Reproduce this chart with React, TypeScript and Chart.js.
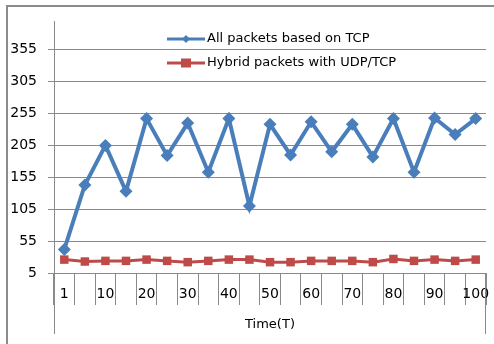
import React, { useEffect, useRef } from "react";
import { Chart, registerables } from "chart.js";

Chart.register(...registerables);

const categories = ["1", "5", "10", "15", "20", "25", "30", "35", "40", "45", "50", "55", "60", "65", "70", "75", "80", "85", "90", "95", "100"];
const tcpValues = [42, 143, 205, 133, 247, 189, 240, 163, 247, 110, 238, 190, 242, 195, 238, 187, 247, 163, 248, 222, 247];
const hybridValues = [26, 23, 24, 24, 26, 24, 22, 24, 26, 26, 22, 22, 24, 24, 24, 22, 27, 24, 26, 24, 26];
const yTicks = [5, 55, 105, 155, 205, 255, 305, 355];
const seriesLabels = ["All packets based on TCP", "Hybrid packets with UDP/TCP"];
const xTitle = "Time(T)";

const FONT = "'DejaVu Sans', sans-serif";
const GRID = "#8a8a8a";

const legendPlugin = {
  id: "customLegend",
  afterDraw(chart: any) {
    const ctx = chart.ctx;
    const rows = [39, 63];
    ctx.save();
    chart.data.datasets.forEach((ds: any, i: number) => {
      const y = rows[i];
      ctx.strokeStyle = ds.borderColor;
      ctx.lineWidth = 3;
      ctx.beginPath();
      ctx.moveTo(167, y);
      ctx.lineTo(205, y);
      ctx.stroke();
      ctx.fillStyle = ds.borderColor;
      const cx = 186;
      if (ds.pointStyle === "rectRot") {
        ctx.beginPath();
        ctx.moveTo(cx, y - 4);
        ctx.lineTo(cx + 4, y);
        ctx.lineTo(cx, y + 4);
        ctx.lineTo(cx - 4, y);
        ctx.closePath();
        ctx.fill();
      } else {
        ctx.fillRect(cx - 5, y - 4.5, 10, 9);
      }
      ctx.fillStyle = "#000";
      ctx.font = `13px ${FONT}`;
      ctx.textBaseline = "middle";
      ctx.textAlign = "left";
      ctx.fillText(ds.label, 207, y);
    });
    ctx.restore();
  },
};

const frameLinesPlugin = {
  id: "frameLines",
  afterDraw(chart: any) {
    const ctx = chart.ctx;
    const a = chart.chartArea;
    ctx.save();
    const xl = Math.round(a.left) + 0.5;
    const xr = Math.round(a.right) - 0.5;
    const yb = Math.round(a.bottom) + 0.5;
    const yEnd = 334;
    // keep the strip under the axis title clean
    ctx.fillStyle = "#fff";
    ctx.fillRect(xl + 1, 331, xr - xl - 2, 13);
    ctx.strokeStyle = GRID;
    ctx.lineWidth = 1;
    ctx.beginPath();
    ctx.moveTo(xl, a.top);
    ctx.lineTo(xl, yEnd);
    ctx.stroke();
    ctx.beginPath();
    ctx.moveTo(xr, yb);
    ctx.lineTo(xr, yEnd);
    ctx.stroke();
    ctx.beginPath();
    ctx.moveTo(xl, yb);
    ctx.lineTo(xr, yb);
    ctx.stroke();
    ctx.fillStyle = "#000";
    ctx.font = `13px ${FONT}`;
    ctx.textAlign = "center";
    ctx.textBaseline = "middle";
    ctx.fillText(xTitle, (a.left + a.right) / 2, 325);
    ctx.restore();
  },
};

export default function App() {
  const ref = useRef<HTMLCanvasElement>(null);
  useEffect(() => {
    if (!ref.current) return;
    const chart = new Chart(ref.current, {
      type: "line",
      data: {
        labels: categories,
        datasets: [
          {
            label: seriesLabels[0],
            data: tcpValues,
            borderColor: "#4a7ebb",
            backgroundColor: "#4a7ebb",
            borderWidth: 4,
            pointStyle: "rectRot",
            pointRadius: 6.5,
            pointBorderWidth: 0,
            tension: 0,
          },
          {
            label: seriesLabels[1],
            data: hybridValues,
            borderColor: "#be4b48",
            backgroundColor: "#be4b48",
            borderWidth: 3,
            pointStyle: "rect",
            pointRadius: 6,
            pointBorderWidth: 0,
            tension: 0,
          },
        ],
      },
      options: {
        animation: false,
        responsive: false,
        maintainAspectRatio: false,
        layout: { padding: { left: 0, right: 8, top: 21, bottom: 0 } },
        plugins: { legend: { display: false }, tooltip: { enabled: false } },
        scales: {
          x: {
            type: "category",
            offset: true,
            grid: {
              offset: true,
              drawOnChartArea: false,
              drawTicks: true,
              tickLength: 32,
              color: GRID,
            },
            border: { display: false },
            ticks: {
              autoSkip: false,
              maxRotation: 0,
              padding: -19,
              color: "#000",
              font: { family: FONT, size: 14 },
              callback: (_v: any, i: number) => (i % 2 === 0 ? categories[i] : ""),
            },
            title: { display: false },
            afterFit: (s: any) => {
              s.height = 71;
            },
          },
          y: {
            min: 5,
            max: 400,
            afterBuildTicks: (s: any) => {
              s.ticks = yTicks.map((v) => ({ value: v }));
            },
            grid: { color: GRID, tickLength: 6, drawTicks: true },
            border: { display: false },
            ticks: {
              padding: 11,
              color: "#000",
              font: { family: FONT, size: 14 },
            },
            afterFit: (s: any) => {
              s.width = 54;
            },
          },
        },
      },
      plugins: [legendPlugin, frameLinesPlugin],
    });
    return () => chart.destroy();
  }, []);
  return (
    <div style={{ position: "fixed", left: 0, top: 0, width: 494, height: 344, background: "#fff", overflow: "hidden" }}>
      <div
        style={{
          position: "absolute",
          left: 6,
          top: 5,
          width: 600,
          height: 600,
          borderTop: "2px solid #8c8c8c",
          borderLeft: "2px solid #8c8c8c",
          boxSizing: "border-box",
        }}
      />
      <canvas ref={ref} width={494} height={344} style={{ position: "absolute", left: 0, top: 0, display: "block" }} />
    </div>
  );
}
